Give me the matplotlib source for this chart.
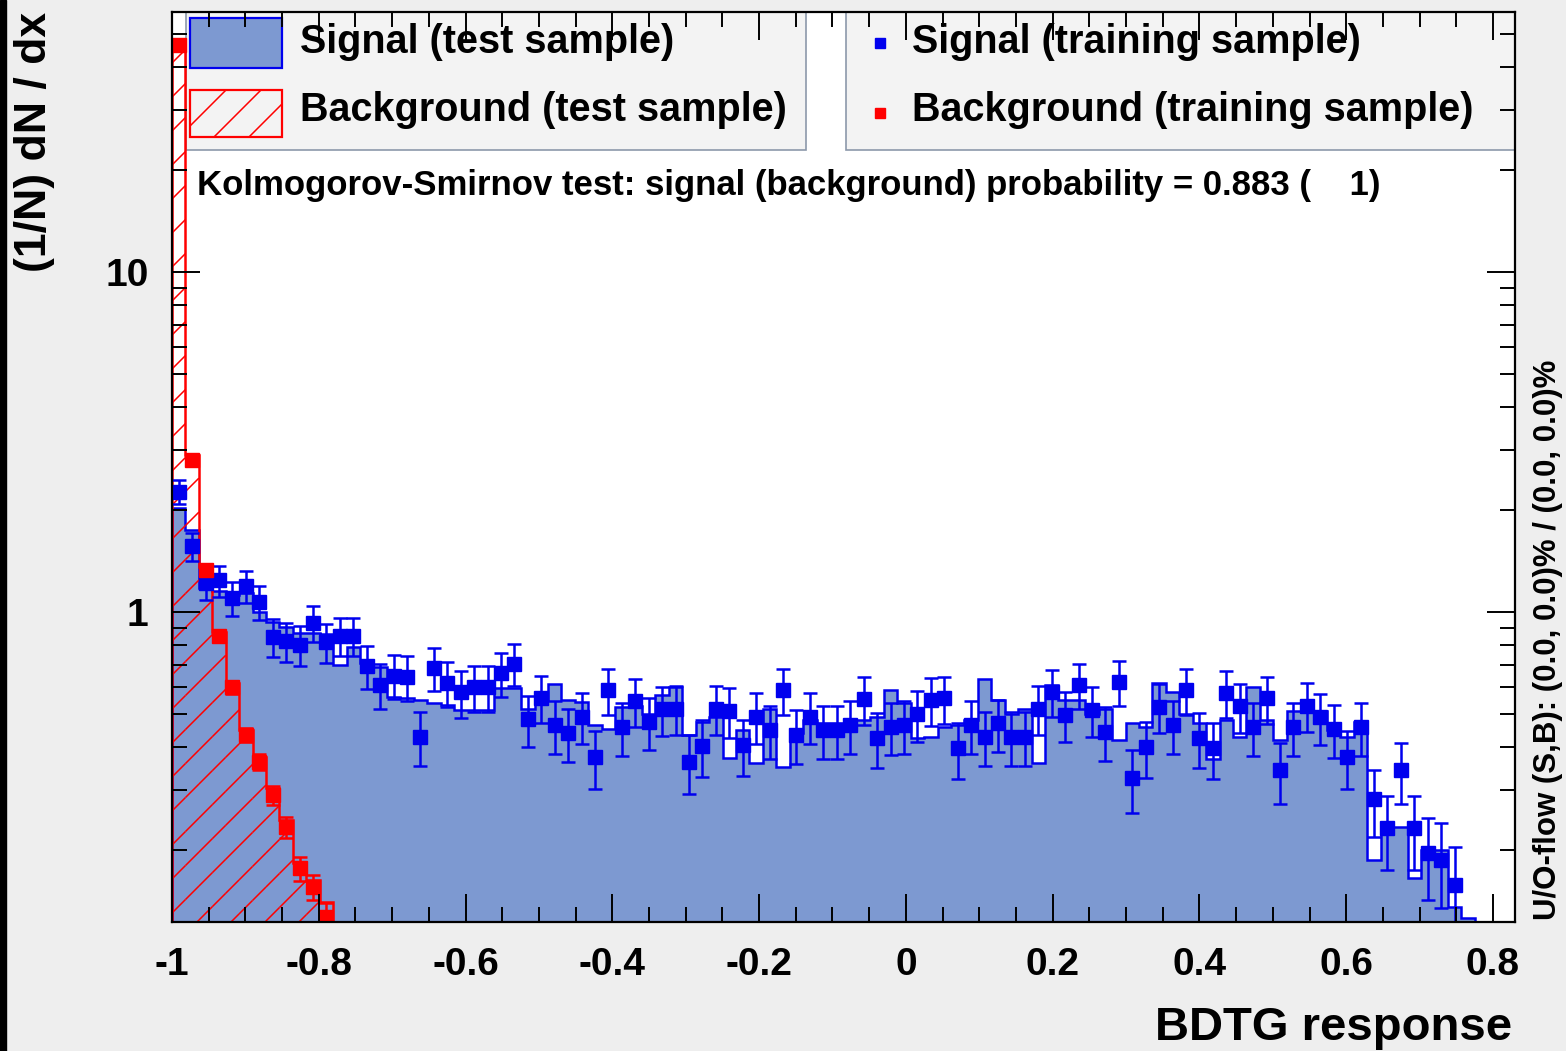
from __future__ import annotations

import numpy as np
import matplotlib

matplotlib.use("Agg")
import matplotlib.pyplot as plt
from matplotlib.collections import LineCollection
from matplotlib.patches import Rectangle
from matplotlib.ticker import FixedLocator, LogLocator, MultipleLocator, NullFormatter

plt.rcParams["font.family"] = ["Liberation Sans", "DejaVu Sans"]
plt.rcParams["font.weight"] = "bold"

# ---- data ----
x_min, x_max, n_bins = -1.0, 0.83, 100

sig_test = [
    2.02, 1.74, 1.18, 1.15, 1.12, 1.14, 1.00, 0.935, 0.905, 0.866,
    0.866, 0.86, 0.70, 0.79, 0.71, 0.69, 0.563, 0.56, 0.551, 0.54,
    0.533, 0.515, 0.515, 0.515, 0.596, 0.596, 0.517, 0.55, 0.614, 0.55,
    0.545, 0.465, 0.452, 0.527, 0.53, 0.50, 0.57, 0.603, 0.435, 0.476,
    0.49, 0.371, 0.45, 0.359, 0.52, 0.35, 0.44, 0.48, 0.47, 0.47,
    0.48, 0.48, 0.49, 0.59, 0.54, 0.425, 0.43, 0.46, 0.465, 0.48,
    0.635, 0.55, 0.50, 0.52, 0.36, 0.61, 0.55, 0.55, 0.50, 0.52,
    0.42, 0.47, 0.46, 0.62, 0.58, 0.50, 0.47, 0.37, 0.48, 0.43,
    0.603, 0.48, 0.42, 0.51, 0.51, 0.51, 0.45, 0.43, 0.476, 0.187,
    0.233, 0.233, 0.165, 0.20, 0.20, 0.136, 0.126, 0.0, 0.0, 0.0,
]

sig_train = [
    2.26, 1.56, 1.215, 1.24, 1.10, 1.19, 1.07, 0.846, 0.82, 0.80,
    0.93, 0.815, 0.85, 0.85, 0.695, 0.61, 0.65, 0.645, 0.43, 0.683,
    0.62, 0.58, 0.60, 0.60, 0.66, 0.705, 0.485, 0.56, 0.465, 0.44,
    0.492, 0.375, 0.59, 0.458, 0.548, 0.476, 0.517, 0.52, 0.363, 0.404,
    0.52, 0.512, 0.406, 0.492, 0.45, 0.59, 0.435, 0.492, 0.45, 0.45,
    0.465, 0.555, 0.425, 0.46, 0.465, 0.50, 0.55, 0.557, 0.397, 0.465,
    0.43, 0.47, 0.43, 0.43, 0.52, 0.583, 0.498, 0.61, 0.515, 0.445,
    0.624, 0.324, 0.40, 0.527, 0.465, 0.59, 0.425, 0.397, 0.579, 0.529,
    0.458, 0.557, 0.343, 0.458, 0.53, 0.49, 0.452, 0.375, 0.458, 0.281,
    0.231, 0.343, 0.231, 0.195, 0.187, 0.157,
]

sig_train_err = [
    0.18, 0.15, 0.13, 0.13, 0.125, 0.13, 0.124, 0.11, 0.108, 0.107,
    0.115, 0.108, 0.11, 0.11, 0.10, 0.093, 0.096, 0.096, 0.078, 0.099,
    0.094, 0.091, 0.093, 0.093, 0.097, 0.10, 0.083, 0.089, 0.082, 0.079,
    0.084, 0.073, 0.092, 0.081, 0.088, 0.082, 0.086, 0.086, 0.072, 0.076,
    0.086, 0.086, 0.076, 0.084, 0.08, 0.092, 0.079, 0.084, 0.08, 0.08,
    0.082, 0.089, 0.078, 0.081, 0.082, 0.085, 0.089, 0.089, 0.075, 0.082,
    0.078, 0.082, 0.078, 0.078, 0.086, 0.091, 0.084, 0.093, 0.086, 0.08,
    0.094, 0.068, 0.076, 0.087, 0.082, 0.092, 0.078, 0.075, 0.091, 0.087,
    0.081, 0.089, 0.07, 0.081, 0.087, 0.084, 0.08, 0.073, 0.081, 0.063,
    0.057, 0.07, 0.057, 0.053, 0.052, 0.047,
]

bkg_test = [45.0, 2.9, 1.36, 0.873, 0.62, 0.45, 0.375, 0.304, 0.245, 0.183, 0.163, 0.14]
bkg_train = [46.5, 2.8, 1.33, 0.85, 0.60, 0.435, 0.362, 0.289, 0.233, 0.176, 0.155, 0.127]
bkg_train_err = [0.5, 0.06, 0.04, 0.03, 0.025, 0.02, 0.02, 0.018, 0.016, 0.014, 0.013, 0.012]

x_ticks = [-1.0, -0.8, -0.6, -0.4, -0.2, 0.0, 0.2, 0.4, 0.6, 0.8]
x_tick_labels = ["-1", "-0.8", "-0.6", "-0.4", "-0.2", "0", "0.2", "0.4", "0.6", "0.8"]
y_ticks = [1.0, 10.0]
y_tick_labels = ["1", "10"]

legend_test = ["Signal (test sample)", "Background (test sample)"]
legend_train = ["Signal (training sample)", "Background (training sample)"]
ks_text = "Kolmogorov-Smirnov test: signal (background) probability = 0.883 (    1)"
overflow_text = "U/O-flow (S,B): (0.0, 0.0)% / (0.0, 0.0)%"

# ---- style ----
W, H = 1566, 1051
sig_fill = "#7d99d1"
sig_line = "#0000ee"
bkg_line = "#ff0000"
fig_bg = "#eeeeee"
leg_bg = "#f3f3f3"
leg_edge = "#8c98aa"
y_floor = 1e-3
hatch_step = 34


def fx(px: float) -> float:
    return px / W


def fy(py: float) -> float:
    return 1.0 - py / H


def hatch_segments(rects: list, spacing: float) -> list:
    # "/" lines (slope +1 in display pixels) cut to each rect (x0, x1, y0, y1), y up
    segs = []
    for x0, x1, y0, y1 in rects:
        if x1 <= x0 or y1 <= y0:
            continue
        c_lo = np.floor((y0 - x1) / spacing) * spacing
        for c in np.arange(c_lo, y1 - x0 + spacing, spacing):
            lo = max(x0, y0 - c)
            hi = min(x1, y1 - c)
            if hi > lo:
                segs.append([((lo) / W, (lo + c) / H), ((hi) / W, (hi + c) / H)])
    return segs


fig = plt.figure(figsize=(W / 100, H / 100), dpi=100, facecolor=fig_bg)
fig.patches.append(Rectangle((0, 0), fx(6), 1, transform=fig.transFigure, color="black"))

ax = fig.add_axes([fx(172), fy(922), fx(1515) - fx(172), fy(12) - fy(922)])
ax.set_facecolor("white")
ax.set_yscale("log")
ax.set_xlim(x_min, x_max)
ax.set_ylim(0.1225, 58.2)

edges = np.linspace(x_min, x_max, n_bins + 1)
centers = 0.5 * (edges[:-1] + edges[1:])

# legend backgrounds (behind the histograms)
for left, right in ((186, 806), (846, 1515)):
    ax.add_patch(Rectangle((fx(left), fy(150)), fx(right) - fx(left), fy(12) - fy(150),
                           transform=fig.transFigure, facecolor=leg_bg, edgecolor=leg_edge,
                           lw=1.2, zorder=0.5, clip_on=False))

# signal test: filled histogram
sig_vals = np.clip(np.array(sig_test), y_floor, None)
ax.stairs(sig_vals, edges, baseline=y_floor, fill=True, color=sig_fill, lw=0, zorder=1)
ax.stairs(sig_vals, edges, baseline=y_floor, fill=False, color=sig_line, lw=1.8, zorder=1.2)

# background test: hatched histogram
bkg_vals = np.zeros(n_bins)
bkg_vals[: len(bkg_test)] = bkg_test
bkg_vals = np.clip(bkg_vals, y_floor, None)
y_bottom, y_top = ax.get_ylim()
bin_rects = []
for i, val in enumerate(bkg_test):
    (px0, py0), = ax.transData.transform([(edges[i], y_bottom)])
    (px1, py1), = ax.transData.transform([(edges[i + 1], min(val, y_top))])
    bin_rects.append((px0, px1, py0, py1))
ax.add_collection(LineCollection(hatch_segments(bin_rects, hatch_step), colors=bkg_line,
                                 linewidths=1.1, transform=fig.transFigure, zorder=1.3))
ax.stairs(bkg_vals, edges, baseline=y_floor, fill=False, color=bkg_line, lw=1.8, zorder=1.4)

# training samples: markers with error bars
n_sig = len(sig_train)
ax.errorbar(centers[:n_sig], sig_train, yerr=sig_train_err, fmt="s", ms=9.5,
            color=sig_line, ecolor=sig_line, elinewidth=1.8, capsize=4.7, capthick=1.8,
            zorder=2)
n_bkg = len(bkg_train)
ax.errorbar(centers[:n_bkg], bkg_train, yerr=bkg_train_err, fmt="s", ms=9.5,
            color=bkg_line, ecolor=bkg_line, elinewidth=1.8, capsize=4.7, capthick=1.8,
            zorder=2.1)

# axes, ticks
ax.set_axisbelow(False)
for spine in ax.spines.values():
    spine.set_linewidth(1.6)
    spine.set_zorder(3)
ax.xaxis.set_major_locator(FixedLocator(x_ticks))
ax.set_xticklabels(x_tick_labels)
ax.xaxis.set_minor_locator(MultipleLocator(0.05))
ax.yaxis.set_major_locator(FixedLocator(y_ticks))
ax.set_yticklabels(y_tick_labels)
ax.yaxis.set_minor_locator(LogLocator(base=10, subs=np.arange(2, 10)))
ax.yaxis.set_minor_formatter(NullFormatter())
ax.tick_params(which="both", direction="in", top=True, right=True, width=1.4, color="black")
ax.tick_params(which="major", length=20, labelsize=28)
ax.tick_params(which="minor", length=11)
ax.tick_params(axis="x", which="major", pad=18)
ax.tick_params(axis="y", which="major", pad=17)

# legend contents
ax.add_patch(Rectangle((fx(190), fy(68)), fx(282) - fx(190), fy(18) - fy(68),
                       transform=fig.transFigure, facecolor=sig_fill, edgecolor=sig_line,
                       lw=1.6, zorder=0.8, clip_on=False))
ax.add_patch(Rectangle((fx(190), fy(137)), fx(282) - fx(190), fy(90) - fy(137),
                       transform=fig.transFigure, facecolor="none", edgecolor=bkg_line,
                       lw=1.6, zorder=0.8, clip_on=False))
swatch_rect = [(190, 282, H - 137, H - 90)]
ax.add_collection(LineCollection(hatch_segments(swatch_rect, 35), colors=bkg_line,
                                 linewidths=1.1, transform=fig.transFigure, zorder=0.7))

fig.text(fx(300), fy(42), legend_test[0], fontsize=28.5, va="center", ha="left")
fig.text(fx(300), fy(110), legend_test[1], fontsize=28.5, va="center", ha="left")
ax.plot([fx(880)], [fy(43)], "s", ms=7, color=sig_line, transform=fig.transFigure,
        clip_on=False, zorder=0.8)
ax.plot([fx(880)], [fy(113)], "s", ms=7, color=bkg_line, transform=fig.transFigure,
        clip_on=False, zorder=0.8)
fig.text(fx(912), fy(42), legend_train[0], fontsize=28.5, va="center", ha="left")
fig.text(fx(912), fy(110), legend_train[1], fontsize=28.5, va="center", ha="left")

fig.text(fx(197), fy(185), ks_text, fontsize=25, va="center", ha="left")

# axis titles
fig.text(fx(35), fy(12), "(1/N) dN / dx", fontsize=32, rotation=90, va="top", ha="center")
fig.text(fx(1512), fy(1028), "BDTG response", fontsize=34, va="center", ha="right")
fig.text(fx(1548), fy(920), overflow_text, fontsize=22.5, rotation=90, va="bottom", ha="center")

fig.savefig("out.png", dpi=100, facecolor=fig_bg)
